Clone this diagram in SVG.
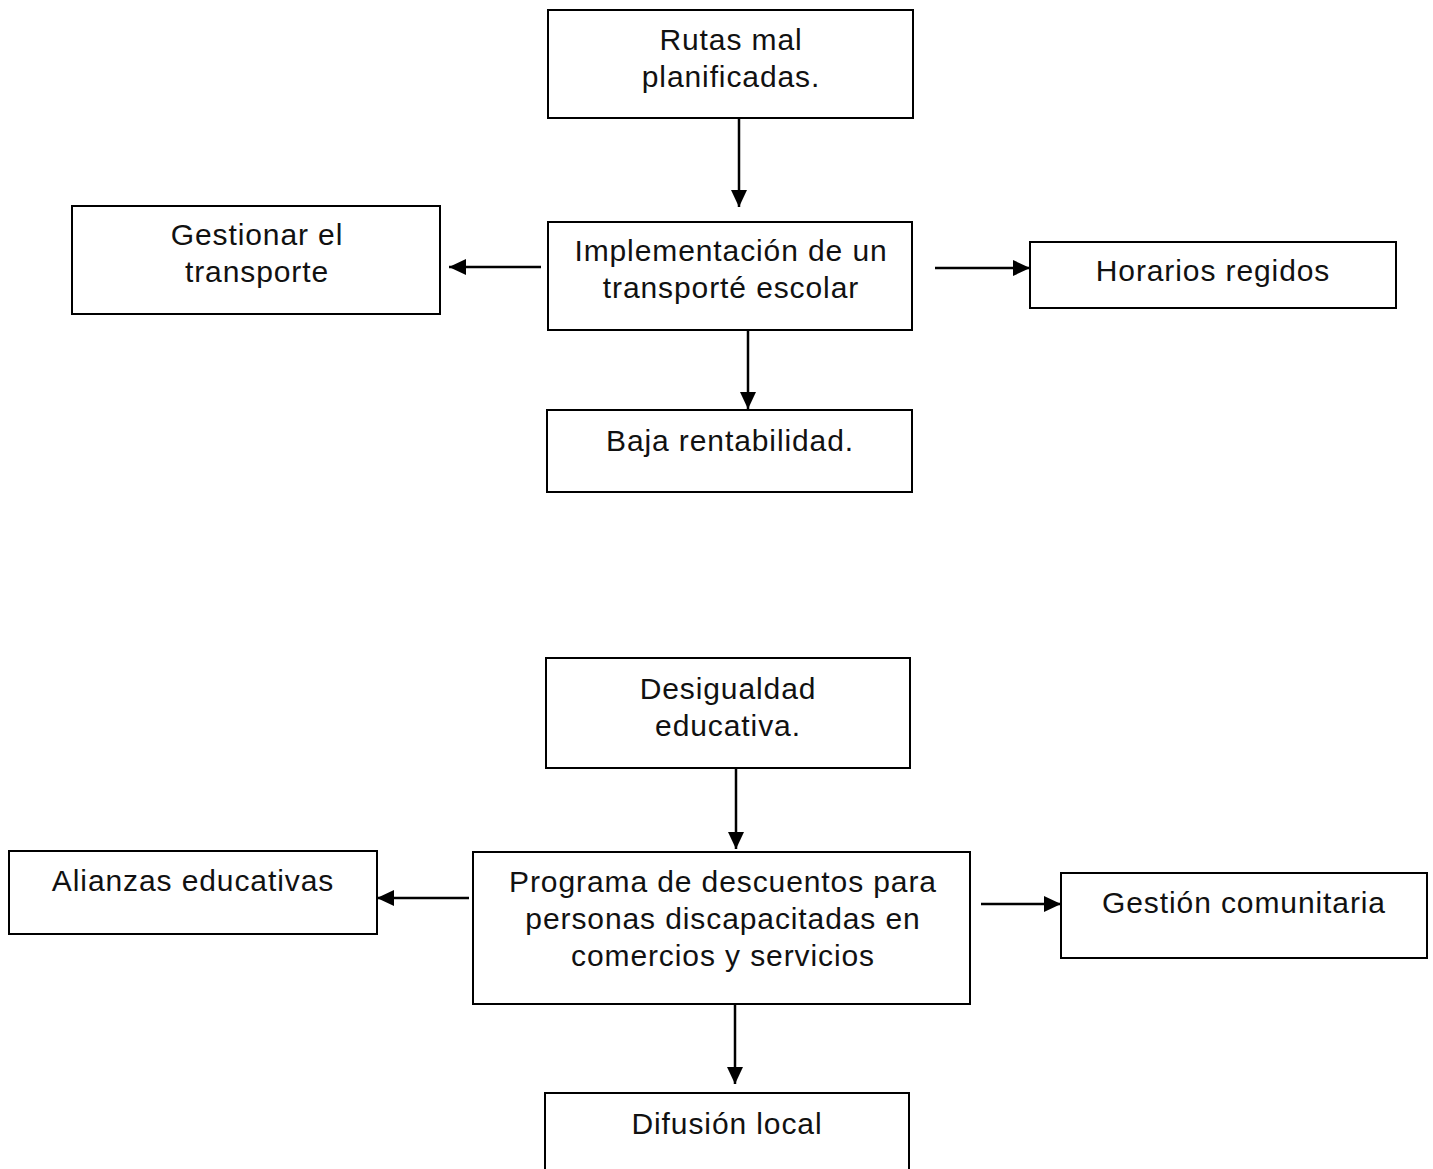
<svg xmlns="http://www.w3.org/2000/svg" width="1433" height="1169" viewBox="0 0 1433 1169">
<style>
.box{fill:#fff;stroke:#000;stroke-width:2}
.t{font-family:"Liberation Sans",Arial,sans-serif;font-size:30px;letter-spacing:0.9px;fill:#111;text-anchor:middle}
.c{stroke:#000;stroke-width:2.5;fill:none;marker-end:url(#ah)}
</style>
<defs>
<marker id="ah" markerUnits="userSpaceOnUse" markerWidth="18" markerHeight="16" refX="17" refY="8" orient="auto">
<path d="M0,0 L17,8 L0,16 Z" fill="#000"/>
</marker>
</defs>
<rect width="1433" height="1169" fill="#fff"/>
<g id="connectors">
<line class="c" x1="739" y1="118" x2="739" y2="207"/>
<line class="c" x1="541" y1="267" x2="449" y2="267"/>
<line class="c" x1="935" y1="268" x2="1030" y2="268"/>
<line class="c" x1="748" y1="330" x2="748" y2="409"/>
<line class="c" x1="736" y1="768" x2="736" y2="849"/>
<line class="c" x1="469" y1="898" x2="377" y2="898"/>
<line class="c" x1="981" y1="904" x2="1061" y2="904"/>
<line class="c" x1="735" y1="1004" x2="735" y2="1084"/>
</g>
<g id="n1"><rect class="box" x="548" y="10" width="365" height="108"/><text class="t" x="731" y="50">Rutas mal</text><text class="t" x="731" y="87">planificadas.</text></g>
<g id="n2"><rect class="box" x="548" y="222" width="364" height="108"/><text class="t" x="731" y="261">Implementación de un</text><text class="t" x="731" y="298">transporté escolar</text></g>
<g id="n3"><rect class="box" x="72" y="206" width="368" height="108"/><text class="t" x="257" y="245">Gestionar el</text><text class="t" x="257" y="282">transporte</text></g>
<g id="n4"><rect class="box" x="1030" y="242" width="366" height="66"/><text class="t" x="1213" y="281">Horarios regidos</text></g>
<g id="n5"><rect class="box" x="547" y="410" width="365" height="82"/><text class="t" x="730" y="451">Baja rentabilidad.</text></g>
<g id="n6"><rect class="box" x="546" y="658" width="364" height="110"/><text class="t" x="728" y="699">Desigualdad</text><text class="t" x="728" y="736">educativa.</text></g>
<g id="n7"><rect class="box" x="473" y="852" width="497" height="152"/><text class="t" x="723" y="892">Programa de descuentos para</text><text class="t" x="723" y="929">personas discapacitadas en</text><text class="t" x="723" y="966">comercios y servicios</text></g>
<g id="n8"><rect class="box" x="9" y="851" width="368" height="83"/><text class="t" x="193" y="891">Alianzas educativas</text></g>
<g id="n9"><rect class="box" x="1061" y="873" width="366" height="85"/><text class="t" x="1244" y="913">Gestión comunitaria</text></g>
<g id="n10"><rect class="box" x="545" y="1093" width="364" height="100"/><text class="t" x="727" y="1134">Difusión local</text></g>
</svg>
